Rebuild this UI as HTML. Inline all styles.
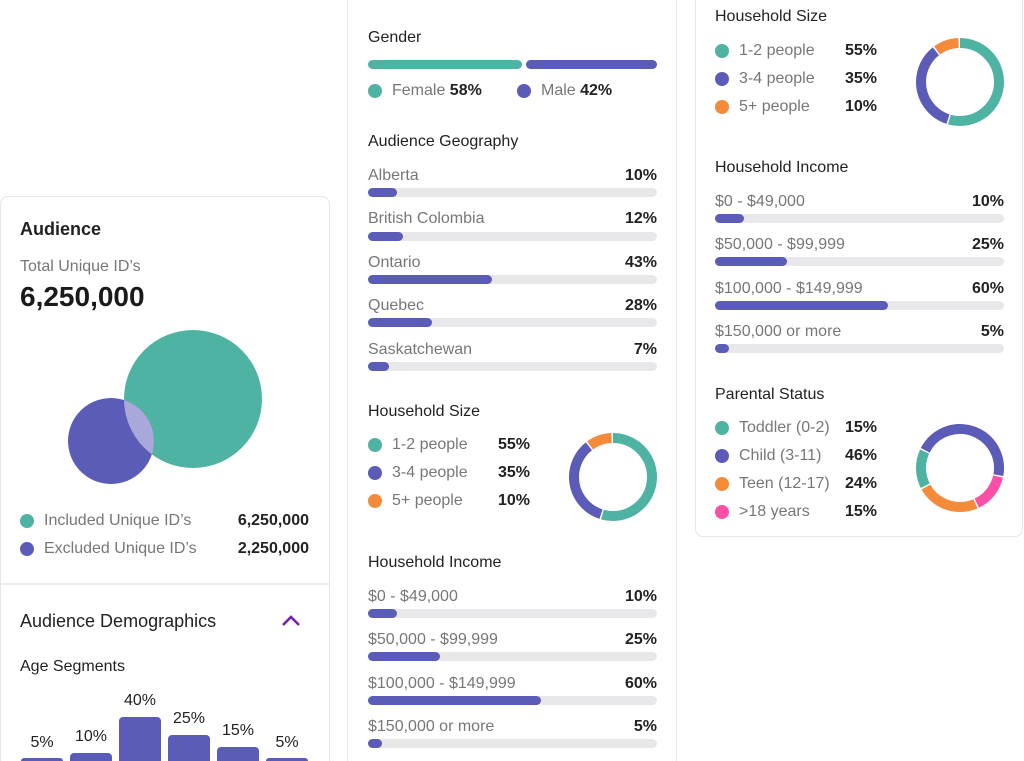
<!DOCTYPE html>
<html><head><meta charset="utf-8"><style>
*{margin:0;padding:0;box-sizing:border-box}
html{width:1024px;height:761px;overflow:hidden}
body{width:1024px;height:761px;background:#fff;position:relative;overflow:hidden;font-family:"Liberation Sans",sans-serif;color:#222}
.t{position:absolute;font-size:16px;line-height:20px;white-space:nowrap}
.h{color:#222}
.l{color:#777}
.b{font-weight:bold;color:#222}
.r{text-align:right}
.dot{position:absolute;width:14px;height:14px;border-radius:50%}
.bar{position:absolute;height:9px;border-radius:5px;background:#e8e7ea}
.fill{position:absolute;left:0;top:0;height:9px;border-radius:5px;background:#5b5cb8}
.vl{position:absolute;top:0;width:1px;height:761px;background:#e8e8ea}
.ab{position:absolute;background:#5b5cb8;border-radius:4px 4px 0 0;width:42px}
</style></head><body>
<div class="vl" style="left:347px"></div>
<div class="vl" style="left:676px"></div>
<div style="position:absolute;left:695px;top:0;width:328px;height:537px;border:1px solid #e6e6e8;border-top:none;border-radius:0 0 8px 8px"></div>
<div style="position:absolute;left:0;top:196px;width:330px;height:565px;border:1px solid #e6e6e8;border-bottom:none;border-radius:8px 8px 0 0"></div>
<div style="position:absolute;left:1px;top:583px;width:328px;height:2px;background:#ececee"></div>

<div class="t h" style="left:20px;top:218px;font-size:18px;line-height:22px;font-weight:bold">Audience</div>
<div class="t l" style="left:20px;top:257px">Total Unique ID’s</div>
<div class="t" style="left:20px;top:281px;font-size:28px;line-height:32px;font-weight:bold;color:#1a1a1a">6,250,000</div>
<svg style="position:absolute;left:0;top:320px" width="330" height="180">
<defs><clipPath id="cp"><circle cx="193" cy="79" r="69"/></clipPath></defs>
<circle cx="193" cy="79" r="69" fill="#4eb3a2"/>
<circle cx="111" cy="121" r="43" fill="#5b5cb8"/>
<circle cx="111" cy="121" r="43" fill="#a9a8db" clip-path="url(#cp)"/>
</svg>
<div class="dot" style="left:20px;top:514px;background:#4eb3a2"></div>
<div class="t l" style="left:44px;top:511px">Included Unique ID’s</div>
<div class="t b r" style="right:715px;top:511px">6,250,000</div>
<div class="dot" style="left:20px;top:542px;background:#5b5cb8"></div>
<div class="t l" style="left:44px;top:539px">Excluded Unique ID’s</div>
<div class="t b r" style="right:715px;top:539px">2,250,000</div>
<div class="t h" style="left:20px;top:610px;font-size:18px;line-height:22px">Audience Demographics</div>
<svg style="position:absolute;left:281px;top:614px" width="20" height="14"><polyline points="2,11 10,3 18,11" fill="none" stroke="#7a1fb0" stroke-width="2.6"/></svg>
<div class="t h" style="left:20px;top:657px">Age Segments</div>
<div class="ab" style="left:21px;top:758px;height:3px"></div>
<div class="ab" style="left:70px;top:753px;height:8px"></div>
<div class="ab" style="left:119px;top:717px;height:44px"></div>
<div class="ab" style="left:168px;top:735px;height:26px"></div>
<div class="ab" style="left:217px;top:747px;height:14px"></div>
<div class="ab" style="left:266px;top:758px;height:3px"></div>
<div class="t h" style="left:21px;width:42px;text-align:center;top:733px">5%</div>
<div class="t h" style="left:70px;width:42px;text-align:center;top:727px">10%</div>
<div class="t h" style="left:119px;width:42px;text-align:center;top:691px">40%</div>
<div class="t h" style="left:168px;width:42px;text-align:center;top:709px">25%</div>
<div class="t h" style="left:217px;width:42px;text-align:center;top:721px">15%</div>
<div class="t h" style="left:266px;width:42px;text-align:center;top:733px">5%</div>

<div class="t h" style="left:368px;top:28px">Gender</div>
<div style="position:absolute;left:368px;top:60px;width:154px;height:9px;border-radius:5px;background:#4eb3a2"></div>
<div style="position:absolute;left:526px;top:60px;width:131px;height:9px;border-radius:5px;background:#5b5cb8"></div>
<div class="dot" style="left:368px;top:84px;background:#4eb3a2"></div>
<div class="t l" style="left:392px;top:81px">Female <b style="color:#222">58%</b></div>
<div class="dot" style="left:517px;top:84px;background:#5b5cb8"></div>
<div class="t l" style="left:541px;top:81px">Male <b style="color:#222">42%</b></div>

<div class="t h" style="left:368px;top:132px">Audience Geography</div>
<div class="t l" style="left:368px;top:166px">Alberta</div><div class="t b r" style="right:367px;top:166px">10%</div>
<div class="bar" style="left:368px;top:188px;width:289px"><div class="fill" style="width:29px"></div></div>
<div class="t l" style="left:368px;top:209px">British Colombia</div><div class="t b r" style="right:367px;top:209px">12%</div>
<div class="bar" style="left:368px;top:232px;width:289px"><div class="fill" style="width:35px"></div></div>
<div class="t l" style="left:368px;top:253px">Ontario</div><div class="t b r" style="right:367px;top:253px">43%</div>
<div class="bar" style="left:368px;top:275px;width:289px"><div class="fill" style="width:124px"></div></div>
<div class="t l" style="left:368px;top:296px">Quebec</div><div class="t b r" style="right:367px;top:296px">28%</div>
<div class="bar" style="left:368px;top:318px;width:289px"><div class="fill" style="width:64px"></div></div>
<div class="t l" style="left:368px;top:340px">Saskatchewan</div><div class="t b r" style="right:367px;top:340px">7%</div>
<div class="bar" style="left:368px;top:362px;width:289px"><div class="fill" style="width:21px"></div></div>

<div class="t h" style="left:368px;top:402px">Household Size</div>
<div class="dot" style="left:368px;top:438px;background:#4eb3a2"></div><div class="t l" style="left:392px;top:435px">1-2 people</div><div class="t b" style="left:498px;top:435px">55%</div>
<div class="dot" style="left:368px;top:466px;background:#5b5cb8"></div><div class="t l" style="left:392px;top:463px">3-4 people</div><div class="t b" style="left:498px;top:463px">35%</div>
<div class="dot" style="left:368px;top:494px;background:#f38b3a"></div><div class="t l" style="left:392px;top:491px">5+ people</div><div class="t b" style="left:498px;top:491px">10%</div>
<svg style="position:absolute;left:569px;top:433px" width="88" height="88"><g transform="rotate(-90 44 44)" fill="none" stroke-width="10">
<circle cx="44" cy="44" r="39" pathLength="100" stroke="#4eb3a2" stroke-dasharray="54.4 100" stroke-dashoffset="0"/>
<circle cx="44" cy="44" r="39" pathLength="100" stroke="#5b5cb8" stroke-dasharray="34.4 100" stroke-dashoffset="-55"/>
<circle cx="44" cy="44" r="39" pathLength="100" stroke="#f38b3a" stroke-dasharray="9.4 100" stroke-dashoffset="-90"/></g></svg>

<div class="t h" style="left:368px;top:553px">Household Income</div>
<div class="t l" style="left:368px;top:587px">$0 - $49,000</div><div class="t b r" style="right:367px;top:587px">10%</div>
<div class="bar" style="left:368px;top:609px;width:289px"><div class="fill" style="width:29px"></div></div>
<div class="t l" style="left:368px;top:630px">$50,000 - $99,999</div><div class="t b r" style="right:367px;top:630px">25%</div>
<div class="bar" style="left:368px;top:652px;width:289px"><div class="fill" style="width:72px"></div></div>
<div class="t l" style="left:368px;top:674px">$100,000 - $149,999</div><div class="t b r" style="right:367px;top:674px">60%</div>
<div class="bar" style="left:368px;top:696px;width:289px"><div class="fill" style="width:173px"></div></div>
<div class="t l" style="left:368px;top:717px">$150,000 or more</div><div class="t b r" style="right:367px;top:717px">5%</div>
<div class="bar" style="left:368px;top:739px;width:289px"><div class="fill" style="width:14px"></div></div>

<div class="t h" style="left:715px;top:7px">Household Size</div>
<div class="dot" style="left:715px;top:44px;background:#4eb3a2"></div><div class="t l" style="left:739px;top:41px">1-2 people</div><div class="t b" style="left:845px;top:41px">55%</div>
<div class="dot" style="left:715px;top:72px;background:#5b5cb8"></div><div class="t l" style="left:739px;top:69px">3-4 people</div><div class="t b" style="left:845px;top:69px">35%</div>
<div class="dot" style="left:715px;top:100px;background:#f38b3a"></div><div class="t l" style="left:739px;top:97px">5+ people</div><div class="t b" style="left:845px;top:97px">10%</div>
<svg style="position:absolute;left:916px;top:38px" width="88" height="88"><g transform="rotate(-90 44 44)" fill="none" stroke-width="10">
<circle cx="44" cy="44" r="39" pathLength="100" stroke="#4eb3a2" stroke-dasharray="54.4 100" stroke-dashoffset="0"/>
<circle cx="44" cy="44" r="39" pathLength="100" stroke="#5b5cb8" stroke-dasharray="34.4 100" stroke-dashoffset="-55"/>
<circle cx="44" cy="44" r="39" pathLength="100" stroke="#f38b3a" stroke-dasharray="9.4 100" stroke-dashoffset="-90"/></g></svg>

<div class="t h" style="left:715px;top:158px">Household Income</div>
<div class="t l" style="left:715px;top:192px">$0 - $49,000</div><div class="t b r" style="right:20px;top:192px">10%</div>
<div class="bar" style="left:715px;top:214px;width:289px"><div class="fill" style="width:29px"></div></div>
<div class="t l" style="left:715px;top:235px">$50,000 - $99,999</div><div class="t b r" style="right:20px;top:235px">25%</div>
<div class="bar" style="left:715px;top:257px;width:289px"><div class="fill" style="width:72px"></div></div>
<div class="t l" style="left:715px;top:279px">$100,000 - $149,999</div><div class="t b r" style="right:20px;top:279px">60%</div>
<div class="bar" style="left:715px;top:301px;width:289px"><div class="fill" style="width:173px"></div></div>
<div class="t l" style="left:715px;top:322px">$150,000 or more</div><div class="t b r" style="right:20px;top:322px">5%</div>
<div class="bar" style="left:715px;top:344px;width:289px"><div class="fill" style="width:14px"></div></div>

<div class="t h" style="left:715px;top:385px">Parental Status</div>
<div class="dot" style="left:715px;top:421px;background:#4eb3a2"></div><div class="t l" style="left:739px;top:418px">Toddler (0-2)</div><div class="t b" style="left:845px;top:418px">15%</div>
<div class="dot" style="left:715px;top:449px;background:#5b5cb8"></div><div class="t l" style="left:739px;top:446px">Child (3-11)</div><div class="t b" style="left:845px;top:446px">46%</div>
<div class="dot" style="left:715px;top:477px;background:#f38b3a"></div><div class="t l" style="left:739px;top:474px">Teen (12-17)</div><div class="t b" style="left:845px;top:474px">24%</div>
<div class="dot" style="left:715px;top:505px;background:#fc4fa8"></div><div class="t l" style="left:739px;top:502px">&gt;18 years</div><div class="t b" style="left:845px;top:502px">15%</div>
<svg style="position:absolute;left:916px;top:424px" width="88" height="88"><g transform="rotate(-153 44 44)" fill="none" stroke-width="10">
<circle cx="44" cy="44" r="39" pathLength="100" stroke="#5b5cb8" stroke-dasharray="45.4 100" stroke-dashoffset="0"/>
<circle cx="44" cy="44" r="39" pathLength="100" stroke="#fc4fa8" stroke-dasharray="14.4 100" stroke-dashoffset="-46"/>
<circle cx="44" cy="44" r="39" pathLength="100" stroke="#f38b3a" stroke-dasharray="23.4 100" stroke-dashoffset="-61"/>
<circle cx="44" cy="44" r="39" pathLength="100" stroke="#4eb3a2" stroke-dasharray="14.4 100" stroke-dashoffset="-85"/></g></svg>
</body></html>
